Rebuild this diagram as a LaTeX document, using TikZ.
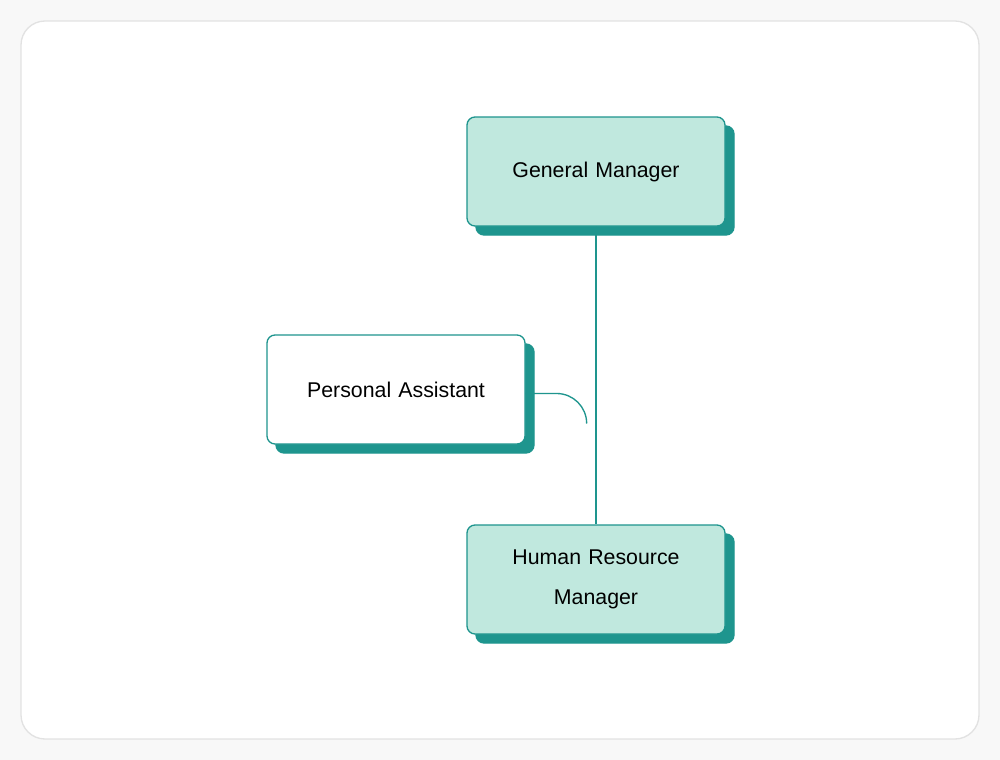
\documentclass[tikz,border=0pt]{standalone}
\usepackage{fontspec}
\setmainfont{Liberation Sans}
\usetikzlibrary{positioning,shadows}
\definecolor{teal1}{HTML}{1E958E}
\definecolor{mint}{HTML}{C0E8DE}
\definecolor{frame}{HTML}{E2E2E2}
\definecolor{page}{HTML}{F8F8F8}
\begin{document}
\begin{tikzpicture}[x=0.75pt,y=-0.75pt,thick,
  role node/.style={draw=teal1,line width=1pt,fill=mint,rounded corners=6pt,
    minimum width=193.5pt,minimum height=81.75pt,align=center,font=\fontsize{16}{30}\selectfont,
    text width=150pt,
    copy shadow={shadow xshift=6.75pt,shadow yshift=-6.75pt,fill=teal1,draw=teal1}},
  link/.style={draw=teal1,line width=1pt}]

	\fill[page] (0,0) rectangle (1000,760);
	\draw[frame,fill=white,line width=1pt,rounded corners=18pt] (21,21) rectangle (979,739);

	\node[role node] (gm) at (596,171.5) {General Manager};
	\node[role node, style={fill=white}] (pa) at (396,389.5) {Personal Assistant};
	\node[role node] (hr) at (596,579.5) {Human Resource\\Manager};

	\draw[link] (gm.south) -- (hr.north);
	\draw[link] (pa.east) ++(0,4) -- ++(31,0) arc[start angle=-90,end angle=0,radius=30] coordinate (pj);

\end{tikzpicture}
\end{document}
